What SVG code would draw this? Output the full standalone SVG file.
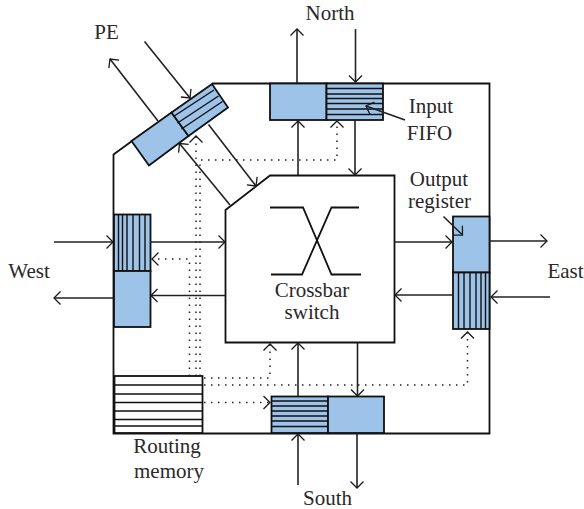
<svg xmlns="http://www.w3.org/2000/svg" width="584" height="509" viewBox="0 0 584 509">
<defs>
<marker id="a" viewBox="-10 -8 12 16" refX="0" refY="0" markerWidth="12" markerHeight="16" markerUnits="userSpaceOnUse" orient="auto" overflow="visible"><path d="M-6.500-6.500L0 0L-6.500 6.500" fill="none" stroke="#1a1a1a" stroke-width="1.300"/></marker>
</defs>
<style>
text{font-family:"Liberation Serif","Times New Roman",serif;font-size:21px;fill:#2b2829;text-anchor:middle}
.b{fill:#9dc3e8;stroke:#111;stroke-width:1.800}
.l{fill:none;stroke:#111;stroke-width:1.800}
.t{fill:none;stroke:#111;stroke-width:1.400}
.c{fill:none;stroke:#222;stroke-width:1.600;marker-end:url(#a)}
.da{fill:none;stroke:#222;stroke-width:1.500;stroke-dasharray:1.500 5.500;marker-end:url(#a)}
</style>
<rect width="584" height="509" fill="#fff"/>
<g id="router-boundary"><path class="l" d="M212 83.500H489.500V433.500H113.500V154.500L132 141"/></g>
<g id="crossbar"><path d="M225.500 210L270 175.500H394.500V342.500H225.500Z" fill="#fff" stroke="#111" stroke-width="1.800"/>
<path class="l" d="M270 207.500H303L331.500 274.500H361M359 207.500H331.500L302 274.500H271"/>
<text x="312" y="297">Crossbar</text><text x="312" y="319">switch</text></g>
<g id="north"><rect class="b" x="270" y="83.500" width="56.500" height="36.500"/><rect class="b" x="326.500" y="83.500" width="56.500" height="36.500"/>
<path class="t" d="M326.500 88.500H383M326.500 94H383M326.500 98.500H383M326.500 103.500H383M326.500 109H383M326.500 114.500H383"/></g>
<g id="south"><rect class="b" x="271.500" y="396.500" width="56.500" height="36.500"/><rect class="b" x="328" y="396.500" width="56" height="36.500"/>
<path class="t" d="M271.500 401H328M271.500 406H328M271.500 411H328M271.500 416H328M271.500 421H328M271.500 426.500H328"/></g>
<g id="west"><rect class="b" x="114" y="214.500" width="36.500" height="56.500"/><rect class="b" x="114" y="271" width="36.500" height="56"/>
<path class="t" d="M118.500 214.500V271M122.500 214.500V271M127 214.500V271M133 214.500V271M139.500 214.500V271M145 214.500V271"/></g>
<g id="east"><rect class="b" x="453" y="216.500" width="36.500" height="56"/><rect class="b" x="453" y="272.500" width="36.500" height="56.500"/>
<path class="t" d="M458.500 272.500V329M464 272.500V329M470 272.500V329M476 272.500V329M481 272.500V329M485.500 272.500V329"/></g>
<g id="pe"><path class="b" d="M131.500 141L171.500 112.500L188.500 136L149 165.500Z"/><path class="b" d="M171.500 112.500L212 84L228 107.500L188.500 136Z"/>
<path class="t" d="M173.500 116.500L214 90M177.500 123L218.500 96M181.500 129L222.500 101.500"/></g>
<g id="routing-memory"><rect x="114.500" y="376" width="88" height="57" fill="#fff" stroke="#111" stroke-width="1.800"/>
<path class="t" d="M114.500 385H202.500M114.500 394H202.500M114.500 402.500H202.500M114.500 411H202.500M114.500 419.500H202.500M114.500 426H202.500"/></g>
<g id="connectors">
<path class="c" d="M297 83V29"/><path class="c" d="M355.500 29V82"/><path class="c" d="M298 175V121"/><path class="c" d="M355 120V175"/>
<path class="c" d="M54 242H113"/><path class="c" d="M113 298H54"/><path class="c" d="M150 242H225"/><path class="c" d="M225 295.500H151"/>
<path class="c" d="M489 241H547"/><path class="c" d="M550 297H491"/><path class="c" d="M394 242H452"/><path class="c" d="M452 295H395"/>
<path class="c" d="M298 396V343"/><path class="c" d="M357.500 343V396"/><path class="c" d="M298 485V434"/><path class="c" d="M357 433V488"/>
<path class="c" d="M144.500 41.500L190 98"/><path class="c" d="M158 121L110 59"/><path class="c" d="M230 205L179.500 143.500"/><path class="c" d="M208.500 124.500L256 186"/>
<path class="da" d="M200 376V160H337V121"/><path class="da" d="M196 376V136"/><path class="da" d="M189.500 376V259H152"/>
<path class="da" d="M204 378H270V344"/><path class="da" d="M204 385H467.500V332"/><path class="da" d="M204 402.500H270"/>
<path class="c" d="M405 120L366 106"/><path class="c" d="M443.500 216.500L462.500 235"/>
</g>
<g id="labels">
<text x="106.500" y="39">PE</text><text x="330" y="20">North</text><text x="431" y="113">Input</text><text x="429.500" y="140">FIFO</text>
<text x="439" y="186">Output</text><text x="439.500" y="208">register</text><text x="29" y="278">West</text><text x="565.500" y="278">East</text>
<text x="167" y="453">Routing</text><text x="169" y="478">memory</text><text x="327.500" y="505">South</text>
</g>
</svg>
